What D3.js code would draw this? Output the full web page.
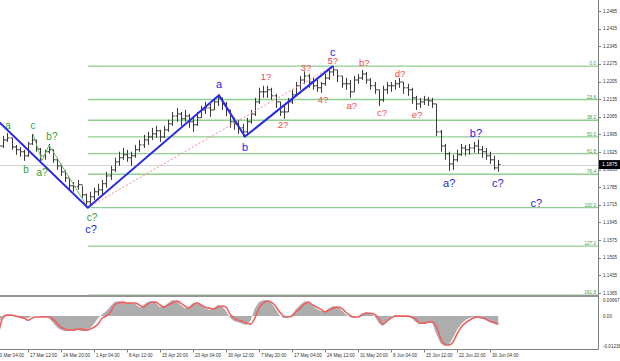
<!DOCTYPE html>
<html>
<head>
<meta charset="utf-8">
<script src="https://cdn.jsdelivr.net/npm/d3@7"></script>
<style>
  body { margin: 0; background: #fff; }
  svg { display: block; font-family: "Liberation Sans", Arial, sans-serif; }
</style>
</head>
<body>
<svg id="chart" width="620" height="361"></svg>
<script>
// DATA  (one point = 4 H4 bars)
const highs = [
  1.1973,1.1989,1.2001,1.1981,1.1953,1.1945,1.1934,1.1965,1.1997,1.1973,
  1.1941,1.1934,1.1957,1.1934,1.1902,1.1878,1.1854,1.1822,1.1806,1.1814,
  1.1791,1.1759,1.1767,1.1783,1.1799,1.1814,1.1846,1.1870,1.1902,1.1926,
  1.1941,1.1934,1.1926,1.1953,1.1973,1.1993,1.2005,1.2021,1.2029,1.2013,
  1.2029,1.2053,1.2084,1.2100,1.2084,1.2092,1.2076,1.2061,1.2084,1.2108,
  1.2124,1.2116,1.2140,1.2150,1.2140,1.2124,1.2092,1.2061,1.2053,1.2037,
  1.2061,1.2092,1.2140,1.2180,1.2188,1.2188,1.2180,1.2156,1.2124,1.2108,
  1.2140,1.2172,1.2203,1.2227,1.2245,1.2235,1.2219,1.2211,1.2203,1.2235,
  1.2259,1.2266,1.2251,1.2227,1.2219,1.2211,1.2227,1.2235,1.2251,1.2243,
  1.2219,1.2203,1.2172,1.2188,1.2203,1.2203,1.2211,1.2219,1.2203,1.2196,
  1.2180,1.2148,1.2140,1.2148,1.2144,1.2140,1.2116,1.2013,1.1957,1.1926,
  1.1914,1.1934,1.1957,1.1953,1.1957,1.1965,1.1975,1.1949,1.1941,1.1926,
  1.1910,1.1894
];
const lows = [
  1.1926,1.1941,1.1965,1.1934,1.1914,1.1906,1.1890,1.1906,1.1953,1.1926,
  1.1886,1.1894,1.1918,1.1882,1.1854,1.1830,1.1806,1.1775,1.1767,1.1775,
  1.1743,1.1704,1.1711,1.1735,1.1751,1.1755,1.1783,1.1814,1.1846,1.1870,
  1.1894,1.1886,1.1870,1.1902,1.1926,1.1941,1.1953,1.1973,1.1981,1.1965,
  1.1981,1.2005,1.2029,1.2045,1.2029,1.2045,1.2021,1.2005,1.2029,1.2061,
  1.2076,1.2065,1.2092,1.2108,1.2092,1.2068,1.2021,1.2013,1.1997,1.1986,
  1.1993,1.2037,1.2068,1.2116,1.2140,1.2140,1.2132,1.2100,1.2068,1.2057,
  1.2084,1.2116,1.2148,1.2172,1.2196,1.2180,1.2172,1.2164,1.2160,1.2188,
  1.2211,1.2227,1.2203,1.2180,1.2172,1.2140,1.2164,1.2196,1.2211,1.2196,
  1.2172,1.2156,1.2108,1.2124,1.2156,1.2164,1.2172,1.2180,1.2156,1.2148,
  1.2116,1.2092,1.2100,1.2112,1.2108,1.2100,1.1989,1.1926,1.1894,1.1850,
  1.1854,1.1886,1.1910,1.1910,1.1914,1.1922,1.1918,1.1902,1.1894,1.1878,
  1.1854,1.1847
];
const closes = [
  1.1949,1.1973,1.1981,1.1945,1.1934,1.1926,1.1910,1.1957,1.1973,1.1937,
  1.1910,1.1926,1.1934,1.1894,1.1870,1.1846,1.1822,1.1791,1.1787,1.1795,
  1.1755,1.1727,1.1747,1.1767,1.1775,1.1799,1.1830,1.1854,1.1886,1.1902,
  1.1914,1.1902,1.1910,1.1934,1.1953,1.1973,1.1985,1.1997,1.2009,1.1985,
  1.2013,1.2037,1.2068,1.2076,1.2057,1.2068,1.2045,1.2033,1.2061,1.2092,
  1.2100,1.2092,1.2124,1.2140,1.2116,1.2092,1.2045,1.2037,1.2021,1.2005,
  1.2045,1.2076,1.2124,1.2164,1.2164,1.2172,1.2148,1.2124,1.2084,1.2084,
  1.2124,1.2152,1.2188,1.2211,1.2227,1.2203,1.2188,1.2180,1.2196,1.2219,
  1.2243,1.2251,1.2227,1.2196,1.2196,1.2164,1.2211,1.2219,1.2235,1.2211,
  1.2188,1.2172,1.2132,1.2172,1.2188,1.2188,1.2196,1.2203,1.2180,1.2172,
  1.2140,1.2116,1.2124,1.2132,1.2128,1.2116,1.2005,1.1949,1.1918,1.1878,
  1.1894,1.1914,1.1941,1.1934,1.1941,1.1949,1.1934,1.1926,1.1910,1.1894,
  1.1862,1.1875
];
const macd = [
  -0.0025,0.0004,0.0008,0.0004,0,-0.0008,-0.0012,-0.0008,0,0,
  -0.0004,-0.0004,-0.0008,-0.0025,-0.0046,-0.0058,-0.0062,-0.0062,-0.0058,-0.0058,
  -0.0062,-0.0062,-0.0050,-0.0033,-0.0008,0.0008,0.0021,0.0042,0.0058,0.0062,
  0.0058,0.0054,0.0054,0.0050,0.0037,0.0046,0.0058,0.0062,0.0054,0.0037,
  0.0042,0.0054,0.00667,0.0062,0.0046,0.0033,0.0037,0.0054,0.0058,0.0046,
  0.0033,0.0025,0.0033,0.0046,0.0042,0.0021,-0.0008,-0.0021,-0.0025,-0.0033,
  -0.0037,-0.0017,0.0033,0.0058,0.0066,0.0066,0.0054,0.0029,0.0004,-0.0008,
  -0.0008,0.0008,0.0029,0.0046,0.0062,0.0058,0.0042,0.0029,0.0021,0.0021,
  0.0033,0.0042,0.0037,0.0025,0.0008,-0.0004,-0.0008,0,0.0012,0.0017,
  0.0012,0,-0.0029,-0.0042,-0.0017,-0.0004,0.0004,0.0004,0,0,
  -0.0008,-0.0025,-0.0033,-0.0029,-0.0025,-0.0029,-0.0075,-0.0112,-0.01238,-0.0120,
  -0.0091,-0.0058,-0.0033,-0.0017,-0.0008,-0.0004,-0.0004,-0.0008,-0.0017,-0.0025,
  -0.0033,-0.0037
];
const signal = [
  -0.0058,-0.0004,0.0004,0.0004,0,-0.0004,-0.0008,-0.0017,-0.0008,-0.0004,
  -0.0004,-0.0004,-0.0004,-0.0012,-0.0029,-0.0046,-0.0054,-0.0058,-0.0058,-0.0054,
  -0.0054,-0.0058,-0.0054,-0.0046,-0.0033,-0.0008,0,0.0017,0.0046,0.0054,
  0.0058,0.0054,0.0054,0.0054,0.0046,0.0037,0.0050,0.0058,0.0058,0.0046,
  0.0037,0.0046,0.0054,0.0062,0.0054,0.0042,0.0033,0.0046,0.0054,0.0046,
  0.0037,0.0033,0.0029,0.0037,0.0042,0.0037,0.0008,-0.0008,-0.0017,-0.0021,
  -0.0029,-0.0033,-0.0008,0.0033,0.0054,0.0062,0.0058,0.0042,0.0017,0,
  -0.0004,0,0.0017,0.0033,0.0050,0.0058,0.0046,0.0037,0.0029,0.0017,
  0.0025,0.0033,0.0037,0.0033,0.0017,0.0004,-0.0004,-0.0004,0.0004,0.0012,
  0.0012,0.0008,-0.0008,-0.0033,-0.0021,-0.0008,0,0,0,0,
  -0.0004,-0.0012,-0.0029,-0.0029,-0.0025,-0.0025,-0.0042,-0.0091,-0.0116,-0.0120,
  -0.0108,-0.0075,-0.0046,-0.0029,-0.0017,-0.0008,-0.0004,-0.0008,-0.0012,-0.0021,
  -0.0025,-0.0033
];
const priceTicks = [1.2485,1.2415,1.2345,1.2275,1.2205,1.2135,1.2065,1.1995,1.1925,
                    1.1855,1.1785,1.1715,1.1645,1.1575,1.1505,1.1435,1.1365];
const oscTicks = [0.00667, 0, -0.01238];
const oscTickLabels = ["0.00667", "0.00", "-0.01238"];
const dateLabels = ["10 Mar 04:00","17 Mar 12:00","24 Mar 20:00","1 Apr 04:00","8 Apr 12:00",
  "15 Apr 20:00","23 Apr 04:00","30 Apr 12:00","7 May 20:00","17 May 04:00","24 May 12:00",
  "31 May 20:00","8 Jun 04:00","15 Jun 12:00","22 Jun 20:00","30 Jun 04:00"];
const fibLevels = ["0.0","23.6","38.2","50.0","61.8","76.4","100.0","127.2","161.8"];
const fibHigh = 1.2266, fibLow = 1.1704, fibStart = 21.5;
const lastPrice = 1.1875;

// wave lines: [point index, price]
const blueWave = [[0,1.2044],[21.5,1.1704],[53.3,1.2150],[59.6,1.1986],[80.9,1.2266]];
const greenWave = [[8.2,1.1997],[10.4,1.1890],[12.1,1.1953],[21.5,1.1704]];
const redDotted = [[21.5,1.1704],[80.9,1.2266]];

// wave labels: [text, point index, price]
const greenLabels = [["a",2.15,1.2029],["c",8.2,1.2029],["b?",12.8,1.1985],["b",6.5,1.1854],
                     ["a?",10.4,1.1842],["c?",22.5,1.1664]];
const blueLabels = [["c?",22.3,1.1620],["a",53.3,1.2196],["b",59.6,1.1945],["c",80.9,1.2322],
                    ["a?",109.1,1.1802],["b?",115.6,1.2001],["c?",120.9,1.1802],["c?",130.2,1.1723]];
const redLabels = [["1?",64.7,1.2223],["2?",68.8,1.2033],["3?",74.4,1.2259],["4?",78.5,1.2132],
                   ["5?",80.9,1.2287],["a?",85.5,1.2108],["b?",88.5,1.2279],["c?",92.8,1.2080],
                   ["d?",97.2,1.2235],["e?",101.3,1.2072]];

// LAYOUT
const plotRight = 598, mainBottom = 295, oscTop = 296, oscBottom = 349.5;
const svg = d3.select('#chart');

// 32 H4 bars between date labels, one data point = 4 bars
const barX = d3.scaleLinear().domain([0, 32]).range([-5, 28]);
const px = j => barX(4 + 4 * j);
const y = d3.scaleLinear().domain([1.1365, 1.2485]).range([293, 11]);
const oy = d3.scaleLinear().domain([-0.01238, 0.00667]).range([346, 300]);

svg.append('defs').append('clipPath').attr('id', 'mainClip')
  .append('rect').attr('x', 0).attr('y', 0).attr('width', plotRight).attr('height', mainBottom);
svg.select('defs').append('clipPath').attr('id', 'oscClip')
  .append('rect').attr('x', 0).attr('y', oscTop).attr('width', plotRight).attr('height', oscBottom - oscTop);

const main = svg.append('g').attr('clip-path', 'url(#mainClip)');

// current price line
main.append('line')
  .attr('x1', 0).attr('x2', plotRight)
  .attr('y1', Math.round(y(lastPrice)) + 0.5).attr('y2', Math.round(y(lastPrice)) + 0.5)
  .attr('stroke', '#d4d4d4').attr('stroke-width', 1);

// fibonacci levels
const fibPrice = i => fibHigh - (fibHigh - fibLow) * (+fibLevels[i]) / 100;
main.selectAll('line.fib').data(fibLevels).enter().append('line')
  .attr('class', 'fib')
  .attr('x1', px(fibStart)).attr('x2', plotRight)
  .attr('y1', (d, i) => y(fibPrice(i))).attr('y2', (d, i) => y(fibPrice(i)))
  .attr('stroke', '#8fcf8f').attr('stroke-width', 1.4);
svg.selectAll('text.fib').data(fibLevels).enter().append('text')
  .attr('class', 'fib')
  .attr('x', plotRight - 2).attr('y', (d, i) => y(fibPrice(i)) - 1)
  .attr('text-anchor', 'end').attr('font-size', 4.6).attr('fill', '#3c9a3c')
  .text(d => d);

// price bars (OHLC)
const bars = main.append('g').attr('stroke', '#3a3a3a').attr('stroke-width', 1);
highs.forEach((h, j) => {
  const x = Math.round(px(j)) + 0.5;
  const open = j > 0 ? closes[j - 1] : closes[0];
  bars.append('line').attr('x1', x).attr('x2', x).attr('y1', y(h)).attr('y2', y(lows[j]));
  bars.append('line').attr('x1', x - 2).attr('x2', x).attr('y1', y(open)).attr('y2', y(open));
  bars.append('line').attr('x1', x).attr('x2', x + 2).attr('y1', y(closes[j])).attr('y2', y(closes[j]));
});

// wave lines
const waveLine = d3.line().x(d => px(d[0])).y(d => y(d[1]));
main.append('path').attr('d', waveLine(redDotted))
  .attr('fill', 'none').attr('stroke', '#f08a8a').attr('stroke-width', 1).attr('stroke-dasharray', '2,2');
main.append('path').attr('d', waveLine(greenWave))
  .attr('fill', 'none').attr('stroke', '#6cbf6c').attr('stroke-width', 1);
main.append('path').attr('d', waveLine(blueWave))
  .attr('fill', 'none').attr('stroke', '#2a2ae6').attr('stroke-width', 2);

// wave labels
function addLabels(list, color, size) {
  svg.append('g').selectAll('text').data(list).enter().append('text')
    .attr('x', d => px(d[1])).attr('y', d => y(d[2]))
    .attr('text-anchor', 'middle').attr('dominant-baseline', 'central')
    .attr('font-size', size).attr('fill', color)
    .text(d => d[0]);
}
addLabels(greenLabels, '#2f9e2f', 10);
addLabels(blueLabels, '#2323e8', 11);
addLabels(redLabels, '#f24a4a', 9.5);

// oscillator
const osc = svg.append('g').attr('clip-path', 'url(#oscClip)');
osc.append('path')
  .attr('d', d3.area().x((d, j) => px(j)).y0(oy(0)).y1(d => oy(d))(macd))
  .attr('fill', '#adadad');
osc.append('path')
  .attr('d', d3.line().x((d, j) => px(j)).y(d => oy(d)).curve(d3.curveMonotoneX)(signal))
  .attr('fill', 'none').attr('stroke', '#f06060').attr('stroke-width', 1.6);

// frame
svg.append('line').attr('x1', 0).attr('x2', plotRight).attr('y1', oscTop).attr('y2', oscTop)
  .attr('stroke', '#707070').attr('stroke-width', 1.5);
svg.append('line').attr('x1', 0).attr('x2', plotRight + 0.5).attr('y1', oscBottom).attr('y2', oscBottom)
  .attr('stroke', '#808080').attr('stroke-width', 1);
svg.append('line').attr('x1', plotRight + 0.5).attr('x2', plotRight + 0.5).attr('y1', 0).attr('y2', oscBottom)
  .attr('stroke', '#808080').attr('stroke-width', 1);

// price axis
const pAxis = svg.append('g');
pAxis.selectAll('line').data(priceTicks).enter().append('line')
  .attr('x1', plotRight).attr('x2', plotRight + 3)
  .attr('y1', d => Math.round(y(d)) + 0.5).attr('y2', d => Math.round(y(d)) + 0.5)
  .attr('stroke', '#808080');
pAxis.selectAll('text').data(priceTicks).enter().append('text')
  .attr('x', plotRight + 5).attr('y', d => y(d) + 1.6)
  .attr('font-size', 4.6).attr('fill', '#333')
  .text(d => d.toFixed(4));

// current price box
svg.append('rect').attr('x', plotRight + 1).attr('y', y(lastPrice) - 4.5)
  .attr('width', 21).attr('height', 9).attr('fill', '#000');
svg.append('text').attr('x', plotRight + 4).attr('y', y(lastPrice) + 1.7)
  .attr('font-size', 5).attr('fill', '#fff').text(lastPrice.toFixed(4));

// oscillator axis
svg.append('g').selectAll('text').data(oscTicks).enter().append('text')
  .attr('x', plotRight + 5).attr('y', d => oy(d) + 1.6)
  .attr('font-size', 4.6).attr('fill', '#333')
  .text((d, i) => oscTickLabels[i]);

// date axis
const dAxis = svg.append('g');
dAxis.selectAll('line').data(dateLabels).enter().append('line')
  .attr('x1', (d, k) => Math.round(barX(32 * k)) + 0.5).attr('x2', (d, k) => Math.round(barX(32 * k)) + 0.5)
  .attr('y1', oscBottom).attr('y2', oscBottom + 3)
  .attr('stroke', '#808080');
dAxis.selectAll('text').data(dateLabels).enter().append('text')
  .attr('x', (d, k) => barX(32 * k) + 2).attr('y', 356.5)
  .attr('font-size', 4.6).attr('fill', '#333')
  .text(d => d);
</script>
</body>
</html>
